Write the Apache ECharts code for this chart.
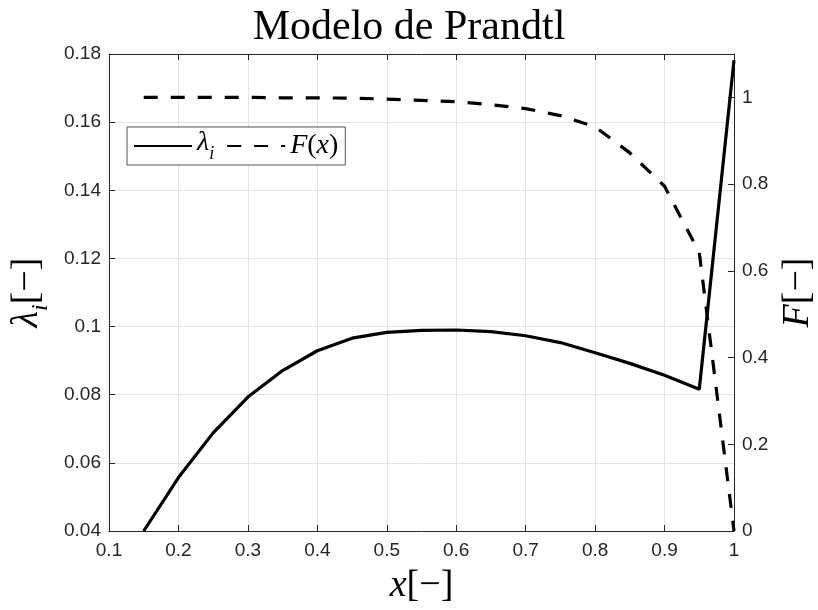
<!DOCTYPE html>
<html>
<head>
<meta charset="utf-8">
<script src="https://cdn.jsdelivr.net/npm/echarts@6/dist/echarts.min.js"></script>
<style>
html, body { margin: 0; padding: 0; background: #fff; }
#chart { width: 818px; height: 610px; }
</style>
</head>
<body>
<div id="chart"></div>
<script>
// posiciones radiales x = r/R
var xs = [0.15, 0.2, 0.25, 0.3, 0.35, 0.4, 0.45, 0.5, 0.55, 0.6, 0.65, 0.7, 0.75, 0.8, 0.85, 0.9, 0.95, 1.0];
// lambda_i (eje izquierdo)
var lambdaI = [0.0400, 0.0557, 0.0688, 0.0793, 0.0871, 0.0929, 0.0966, 0.0983, 0.0989, 0.0990, 0.0985, 0.0973, 0.0953, 0.0923, 0.0892, 0.0857, 0.0816, 0.1782];
// factor de Prandtl F(x) (eje derecho)
var factorF = [1.000, 1.000, 1.000, 1.000, 0.999, 0.999, 0.998, 0.996, 0.993, 0.990, 0.983, 0.974, 0.958, 0.932, 0.872, 0.795, 0.642, 0.000];

var titulo = 'Modelo de Prandtl';

var axisColor = '#262626';
var gridColor = '#e3e3e3';
var serif = 'Liberation Serif';
var sans = 'Liberation Sans';

function fmt(v) {
	return parseFloat(v.toFixed(2)).toString();
}

var chart = echarts.init(document.getElementById('chart'));

var option = {
	backgroundColor: '#fff',
	animation: false,
	title: {
		text: titulo,
		left: 'center',
		top: 2,
		textStyle: { fontFamily: serif, fontWeight: 'normal', fontSize: 42, color: '#000' }
	},
	grid: { left: 109, right: 84, top: 54, bottom: 79, containLabel: false, outerBoundsMode: 'none' },
	legend: {
		left: 127,
		top: 127,
		orient: 'horizontal',
		backgroundColor: '#fff',
		borderColor: '#262626',
		borderWidth: 0.8,
		borderRadius: 0,
		padding: [2, 7, 2, 6],
		itemWidth: 58,
		itemHeight: 2,
		itemGap: 12,
		itemStyle: { opacity: 0 },
		formatter: function (name) {
			if (name === 'lambda') return '{l|λ}{s|i}';
			return '{m|F}{n|(}{m|x}{n|)}';
		},
		textStyle: {
			color: '#000',
			fontFamily: serif,
			fontSize: 28,
			rich: {
				l: { fontFamily: serif, fontStyle: 'italic', fontSize: 28, verticalAlign: 'bottom', padding: [0, 0, 6, 0] },
				s: { fontFamily: serif, fontStyle: 'italic', fontSize: 18, verticalAlign: 'bottom' },
				m: { fontFamily: serif, fontStyle: 'italic', fontSize: 28 },
				n: { fontFamily: serif, fontSize: 28 }
			}
		},
		data: ['lambda', 'F']
	},
	xAxis: [{
		type: 'value',
		min: 0.1,
		max: 1,
		interval: 0.1,
		name: '{i|x}{n|[−]}',
		nameLocation: 'middle',
		nameGap: 36,
		nameTextStyle: {
			rich: {
				i: { fontFamily: serif, fontStyle: 'italic', fontSize: 38, color: '#000' },
				n: { fontFamily: serif, fontSize: 38, color: '#000' }
			}
		},
		axisLine: { show: true, lineStyle: { color: axisColor, width: 1 } },
		axisTick: { show: true, inside: true, length: 6, lineStyle: { color: axisColor } },
		axisLabel: { color: axisColor, fontFamily: sans, fontSize: 19, margin: 10, formatter: fmt },
		splitLine: { show: true, lineStyle: { color: gridColor, width: 1 } }
	}, {
		type: 'value',
		position: 'top',
		min: 0.1,
		max: 1,
		interval: 0.1,
		axisLine: { show: true, lineStyle: { color: axisColor, width: 1 } },
		axisTick: { show: true, inside: true, length: 6, lineStyle: { color: axisColor } },
		axisLabel: { show: false },
		splitLine: { show: false }
	}],
	yAxis: [{
		type: 'value',
		position: 'left',
		min: 0.04,
		max: 0.18,
		interval: 0.02,
		name: '{l|λ}{s|i}{n|[−]}',
		nameLocation: 'middle',
		nameRotate: 90,
		nameGap: 43,
		nameTextStyle: {
			rich: {
				l: { fontFamily: serif, fontStyle: 'italic', fontSize: 38, color: '#000', verticalAlign: 'bottom', padding: [0, 0, 7, 0] },
				s: { fontFamily: serif, fontStyle: 'italic', fontSize: 24, color: '#000', verticalAlign: 'bottom' },
				n: { fontFamily: serif, fontSize: 38, color: '#000', verticalAlign: 'bottom', padding: [0, 0, 7, 0] }
			}
		},
		axisLine: { show: true, lineStyle: { color: axisColor, width: 1 } },
		axisTick: { show: true, inside: true, length: 6, lineStyle: { color: axisColor } },
		axisLabel: { color: axisColor, fontFamily: sans, fontSize: 19, margin: 8, formatter: fmt },
		splitLine: { show: true, lineStyle: { color: gridColor, width: 1 } }
	}, {
		type: 'value',
		position: 'right',
		min: 0,
		max: 1.1,
		interval: 0.2,
		name: '{m|F}{n|[−]}',
		nameLocation: 'middle',
		nameRotate: 90,
		nameGap: 45,
		nameTextStyle: {
			rich: {
				m: { fontFamily: serif, fontStyle: 'italic', fontSize: 38, color: '#000' },
				n: { fontFamily: serif, fontSize: 38, color: '#000' }
			}
		},
		axisLine: { show: true, lineStyle: { color: axisColor, width: 1 } },
		axisTick: { show: true, inside: true, length: 6, lineStyle: { color: axisColor } },
		axisLabel: {
			color: axisColor, fontFamily: sans, fontSize: 19, margin: 8,
			formatter: function (v) { return v > 1.05 ? '' : fmt(v); }
		},
		splitLine: { show: false }
	}],
	series: [{
		name: 'lambda',
		type: 'line',
		xAxisIndex: 0,
		yAxisIndex: 0,
		symbol: 'none',
		data: xs.map(function (x, i) { return [x, lambdaI[i]]; }),
		lineStyle: { color: '#000', width: 3.2, type: 'solid' },
		itemStyle: { color: '#000' },
		z: 3
	}, {
		name: 'F',
		type: 'line',
		xAxisIndex: 0,
		yAxisIndex: 1,
		symbol: 'none',
		data: xs.map(function (x, i) { return [x, factorF[i]]; }),
		lineStyle: { color: '#000', width: 3.2, type: [14, 13], cap: 'butt' },
		itemStyle: { color: '#000' },
		z: 3
	}]
};

chart.setOption(option);
</script>
</body>
</html>
